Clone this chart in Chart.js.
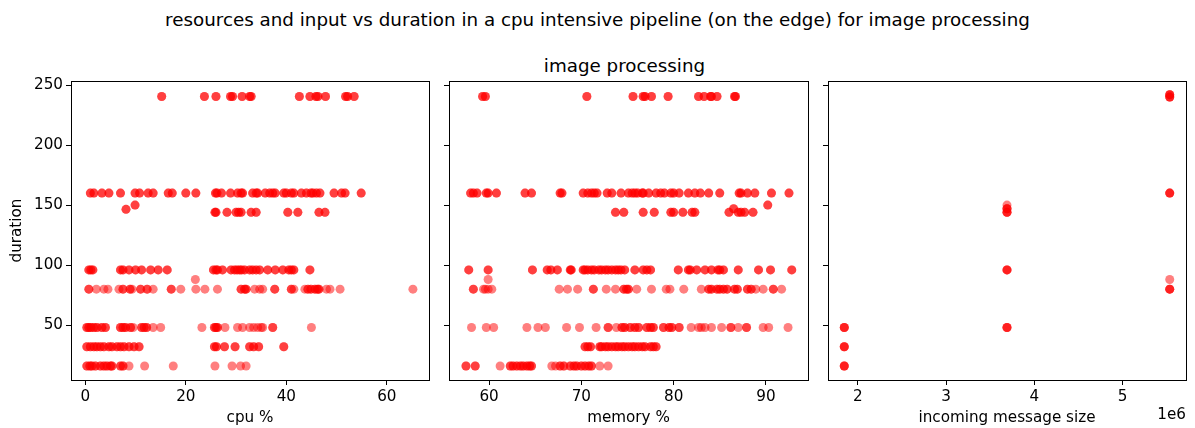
<!DOCTYPE html>
<html>
<head>
<meta charset="utf-8">
<script src="https://cdn.jsdelivr.net/npm/chart.js@4"></script>
<style>
	body { margin: 0; background: #fff; }
	#wrap { position: relative; width: 1195px; height: 428px; font-family: 'DejaVu Sans', sans-serif; color: #000; }
	canvas { position: absolute; top: 0; }
	.title { position: absolute; text-align: center; white-space: nowrap; font-size: 18.3px; line-height: 24px; }
</style>
</head>
<body>
<div id="wrap">
	<div class="title" style="left:0; width:1195px; top:8px;">resources and input vs duration in a cpu intensive pipeline (on the edge) for image processing</div>
	<div class="title" style="left:445px; width:359px; top:54px;">image processing</div>
	<canvas id="cpu" width="435" height="428" style="left:0"></canvas>
	<canvas id="memory" width="380" height="428" style="left:435px"></canvas>
	<canvas id="size" width="380" height="428" style="left:815px"></canvas>
</div>
<script>
// duration levels, one per row of points (shared y axis)
const durationRows = [240.5, 160, 144, 96, 80, 48, 32, 16];
const durationTicks = [50, 100, 150, 200, 250];

// cpu % per duration row (repeated runs listed twice)
const cpuRows = [
	[15.2, 15.2, 23.7, 23.7, 26.0, 26.0, 28.9, 28.9, 29.3, 29.3, 31.2, 31.2, 32.7, 32.7, 33.0, 33.0, 42.6, 42.6, 44.7, 44.7, 45.9, 45.9, 46.3, 46.3, 47.8, 47.8, 51.8, 51.8, 52.2, 52.2, 53.5, 53.5],
	[1.0, 1.0, 1.7, 1.7, 3.3, 3.3, 4.7, 4.7, 7.0, 7.0, 9.9, 9.9, 10.8, 10.8, 12.5, 12.5, 13.5, 13.5, 16.5, 16.5, 17.3, 17.3, 20.0, 20.0, 22.0, 22.0, 25.9, 25.9, 26.2, 26.2, 27.1, 27.1, 28.9, 28.9, 30.3, 30.3, 31.0, 31.0, 31.3, 31.3, 33.3, 33.3, 34.0, 34.0, 34.3, 34.3, 35.8, 35.8, 36.7, 36.7, 37.3, 37.3, 37.8, 37.8, 39.5, 39.5, 40.0, 40.0, 41.0, 41.0, 41.5, 41.5, 43.0, 43.0, 44.0, 44.0, 44.9, 44.9, 45.3, 45.3, 46.0, 46.0, 46.7, 46.7, 49.5, 49.5, 51.0, 51.0, 51.7, 51.7, 54.9, 54.9],
	[25.8, 25.8, 26.0, 26.0, 28.2, 28.2, 30.0, 30.0, 30.5, 30.5, 31.0, 31.0, 33.0, 33.0, 34.0, 34.0, 40.3, 40.3, 42.3, 42.3, 46.5, 46.5, 47.7, 47.7],
	[0.7, 0.7, 1.1, 1.1, 1.5, 1.5, 7.0, 7.0, 7.5, 7.5, 8.7, 8.7, 10.0, 10.0, 11.2, 11.2, 13.0, 13.0, 14.5, 14.5, 16.3, 16.3, 25.5, 25.5, 26.0, 26.0, 26.3, 26.3, 27.3, 27.3, 29.0, 29.0, 29.7, 29.7, 30.2, 30.2, 30.7, 30.7, 31.1, 31.1, 31.7, 31.7, 32.7, 32.7, 33.3, 33.3, 34.0, 34.0, 34.7, 34.7, 36.3, 36.3, 37.8, 37.8, 39.3, 39.3, 40.5, 40.5, 41.0, 41.0, 41.5, 41.5, 44.7, 44.7],
	[0.7, 0.7, 7.5, 7.5, 8.9, 8.9, 11.0, 11.0, 12.3, 12.3, 17.1, 17.1, 31.0, 31.0, 31.7, 31.7, 32.0, 32.0, 37.7, 37.7, 41.0, 41.0, 44.3, 44.3, 44.9, 44.9, 45.7, 45.7, 46.2, 46.2, 46.5, 46.5,
		2.2, 3.7, 4.5, 6.7, 9.3, 13.5, 19.0, 22.0, 23.8, 26.3, 33.7, 34.7, 35.3, 41.5, 43.7, 48.0, 48.7, 50.7, 65.2],
	[0.3, 0.3, 0.7, 0.7, 1.1, 1.1, 1.7, 1.7, 2.3, 2.3, 3.3, 3.3, 4.0, 4.0, 7.0, 7.0, 7.5, 7.5, 8.0, 8.0, 9.0, 9.0, 11.2, 11.2, 11.7, 11.7, 12.2, 12.2, 25.7, 25.7, 26.0, 26.0, 26.3, 26.3, 37.3, 37.3,
		9.5, 13.5, 15.0, 23.2, 27.8, 30.3, 31.3, 32.7, 33.5, 34.3, 35.0, 35.3, 45.0],
	[0.3, 0.3, 1.0, 1.0, 1.7, 1.7, 2.3, 2.3, 3.0, 3.0, 3.7, 3.7, 4.7, 4.7, 5.3, 5.3, 6.3, 6.3, 7.0, 7.0, 7.7, 7.7, 8.7, 8.7, 9.7, 9.7, 10.7, 10.7, 25.7, 25.7, 26.1, 26.1, 27.7, 27.7, 29.8, 29.8, 32.7, 32.7, 33.5, 33.5, 34.5, 34.5, 39.5, 39.5],
	[0.3, 0.3, 0.9, 0.9, 1.3, 1.3, 2.0, 2.0, 3.0, 3.0, 3.7, 3.7, 4.3, 4.3, 5.0, 5.0, 5.3, 5.3, 7.0, 7.0, 7.5, 7.5,
		8.7, 11.8, 17.5, 25.8, 29.2, 30.9, 32.0]
];
const cpuExtraX = [8.1, 8.1, 9.9, 9.9, 21.9];
const cpuExtraY = [146.5, 146.5, 150, 150, 88];
const cpuTicks = [0, 20, 40, 60];

// memory % per duration row
const memoryRows = [
	[59.3, 59.3, 59.6, 59.6, 70.6, 70.6, 75.6, 75.6, 76.7, 76.7, 76.9, 76.9, 77.6, 77.6, 79.4, 79.4, 82.7, 82.7, 83.3, 83.3, 84.0, 84.0, 84.1, 84.1, 84.7, 84.7, 86.6, 86.6, 86.7, 86.7],
	[58.0, 58.0, 58.3, 58.3, 58.7, 58.7, 59.7, 59.7, 59.9, 59.9, 60.8, 60.8, 63.9, 63.9, 64.6, 64.6, 67.7, 67.7, 67.9, 67.9, 70.2, 70.2, 70.7, 70.7, 71.1, 71.1, 71.4, 71.4, 71.7, 71.7, 72.8, 72.8, 73.3, 73.3, 74.3, 74.3, 75.1, 75.1, 75.5, 75.5, 75.8, 75.8, 76.1, 76.1, 76.6, 76.6, 76.7, 76.7, 77.3, 77.3, 78.1, 78.1, 78.6, 78.6, 79.0, 79.0, 79.7, 79.7, 80.0, 80.0, 80.6, 80.6, 81.6, 81.6, 82.3, 82.3, 82.9, 82.9, 83.8, 83.8, 85.0, 85.0, 87.1, 87.1, 87.3, 87.3, 88.0, 88.0, 88.8, 88.8, 90.6, 90.6, 92.5, 92.5],
	[73.7, 73.7, 74.6, 74.6, 76.7, 76.7, 77.9, 77.9, 79.7, 79.7, 80.0, 80.0, 81.0, 81.0, 82.0, 82.0, 82.3, 82.3, 86.0, 86.0, 87.0, 87.0, 87.3, 87.3, 87.7, 87.7, 88.6, 88.6],
	[57.8, 57.8, 59.9, 59.9, 64.7, 64.7, 66.3, 66.3, 66.7, 66.7, 67.4, 67.4, 68.8, 68.8, 68.9, 68.9, 70.2, 70.2, 70.4, 70.4, 70.7, 70.7, 71.1, 71.1, 71.4, 71.4, 71.9, 71.9, 72.2, 72.2, 72.6, 72.6, 72.9, 72.9, 73.3, 73.3, 73.7, 73.7, 74.0, 74.0, 74.3, 74.3, 74.7, 74.7, 75.8, 75.8, 76.7, 76.7, 77.1, 77.1, 77.5, 77.5, 80.5, 80.5, 81.6, 81.6, 81.8, 81.8, 82.5, 82.5, 83.4, 83.4, 84.1, 84.1, 84.8, 84.8, 85.0, 85.0, 85.4, 85.4, 87.0, 87.0, 89.2, 89.2, 90.5, 90.5, 92.8, 92.8],
	[58.3, 58.3, 71.3, 71.3, 74.6, 74.6, 74.9, 74.9, 75.1, 75.1, 83.8, 83.8, 84.1, 84.1, 84.7, 84.7, 85.0, 85.0, 85.4, 85.4, 85.8, 85.8, 86.6, 86.6, 86.9, 86.9, 88.0, 88.0, 88.4, 88.4, 90.8, 90.8,
		59.4, 59.6, 59.9, 60.3, 67.6, 68.5, 69.6, 72.7, 73.7, 76.0, 77.6, 79.2, 79.6, 81.1, 83.0, 88.9, 89.7, 91.7],
	[72.9, 72.9, 74.4, 74.4, 74.7, 74.7, 75.3, 75.3, 75.8, 75.8, 76.2, 76.2, 77.1, 77.1, 77.5, 77.5, 77.8, 77.8, 78.9, 78.9, 79.5, 79.5, 79.8, 79.8, 80.6, 80.6, 86.2, 86.2, 87.9, 87.9,
		58.1, 59.7, 60.5, 64.1, 65.3, 66.1, 68.4, 69.8, 71.6, 73.8, 81.9, 82.7, 83.0, 83.4, 84.1, 85.2, 87.0, 89.7, 90.3, 92.4],
	[70.4, 70.4, 70.7, 70.7, 71.0, 71.0, 72.0, 72.0, 72.2, 72.2, 72.6, 72.6, 72.9, 72.9, 73.3, 73.3, 73.7, 73.7, 74.0, 74.0, 74.4, 74.4, 74.7, 74.7, 75.1, 75.1, 75.5, 75.5, 75.8, 75.8, 76.2, 76.2, 76.6, 76.6, 76.9, 76.9, 77.5, 77.5, 77.8, 77.8, 78.1, 78.1],
	[57.5, 57.5, 58.5, 58.5, 62.3, 62.3, 62.6, 62.6, 63.0, 63.0, 63.4, 63.4, 63.7, 63.7, 64.1, 64.1, 64.4, 64.4, 64.6, 64.6, 67.7, 67.7, 68.1, 68.1, 68.8, 68.8, 69.2, 69.2, 69.5, 69.5, 70.0, 70.0, 70.4, 70.4, 70.8, 70.8, 71.1, 71.1,
		61.2, 66.8, 67.2, 72.0, 72.9]
];
const memoryExtraX = [86.5, 86.5, 90.2, 90.2, 59.9];
const memoryExtraY = [147, 147, 150, 150, 88];
const memoryTicks = [60, 70, 80, 90];

// incoming message size vs duration
const sizeX = [1845000, 1845000, 1845000, 1845000, 1845000, 1845000, 1845000, 1845000, 1845000,
	3690000, 3690000, 3690000, 3690000, 3690000, 3690000, 3690000, 3690000, 3690000, 3690000, 3690000, 3690000, 3690000,
	5535000, 5535000, 5535000, 5535000, 5535000, 5535000, 5535000, 5535000, 5535000, 5535000, 5535000, 5535000, 5535000];
const sizeY = [16, 16, 16, 32, 32, 32, 48, 48, 48,
	48, 48, 48, 96, 96, 96, 144, 144, 144, 147, 147, 147, 150,
	80, 80, 80, 88, 160, 160, 160, 240, 240, 240, 242, 242, 242];
const sizeTicks = [2000000, 3000000, 4000000, 5000000];

Chart.defaults.font.family = 'DejaVu Sans';
Chart.defaults.font.size = 15.2;
Chart.defaults.color = '#000';

function rowsToPoints(rows, extraX, extraY) {
	let pts = [];
	rows.forEach((xs, i) => {
		xs.forEach(x => pts.push({x: x, y: durationRows[i]}));
	});
	extraX.forEach((x, i) => pts.push({x: x, y: extraY[i]}));
	return pts;
}

const framePlugin = {
	id: 'frame',
	afterDraw(chart, args, opts) {
		const a = chart.chartArea;
		const ctx = chart.ctx;
		ctx.save();
		ctx.strokeStyle = '#000';
		ctx.lineWidth = 1;
		ctx.strokeRect(Math.round(a.left) + 0.5, Math.round(a.top) + 0.5, Math.round(a.right - a.left), Math.round(a.bottom - a.top));
		if (opts.note) {
			ctx.fillStyle = '#000';
			ctx.font = '15.2px "DejaVu Sans"';
			ctx.textAlign = 'right';
			ctx.textBaseline = 'middle';
			ctx.fillText(opts.note, a.right, 415);
		}
		ctx.restore();
	}
};

function plotPanel(canvas_id, points, p) {
	const config = {
		type: 'scatter',
		data: {
			datasets: [{
				data: points,
				backgroundColor: 'rgba(255,0,0,0.5)',
				borderWidth: 0,
				pointRadius: 4.5,
				pointHoverRadius: 4.5
			}]
		},
		options: {
			responsive: false,
			animation: false,
			layout: { padding: { left: 0, right: p.padRight, top: 81, bottom: 0 } },
			plugins: {
				legend: { display: false },
				tooltip: { enabled: false },
				frame: { note: p.note }
			},
			scales: {
				x: {
					type: 'linear',
					min: p.xMin,
					max: p.xMax,
					afterBuildTicks: s => { s.ticks = p.xTicks.map(v => ({value: v})); },
					afterFit: s => { s.height = 48; },
					grid: { drawOnChartArea: false, tickLength: 5, tickColor: '#000', tickWidth: 1 },
					border: { display: false },
					ticks: { padding: 3, maxRotation: 0, callback: p.xFormat },
					title: { display: true, text: p.xTitle, padding: { top: 2, bottom: 1 } }
				},
				y: {
					type: 'linear',
					min: 4.3,
					max: 253.4,
					afterBuildTicks: s => { s.ticks = durationTicks.map(v => ({value: v})); },
					afterFit: s => { s.width = p.yWidth; },
					grid: { drawOnChartArea: false, tickLength: 5, tickColor: '#000', tickWidth: 1 },
					border: { display: false },
					ticks: { display: p.yLabels, padding: 3 },
					title: { display: p.yLabels, text: 'duration', padding: { top: 8, bottom: 0 } }
				}
			}
		},
		plugins: [framePlugin]
	};
	return new Chart(document.getElementById(canvas_id), config);
}

plotPanel('cpu', rowsToPoints(cpuRows, cpuExtraX, cpuExtraY), {
	xMin: -2.85, xMax: 68.4, xTicks: cpuTicks, xTitle: 'cpu %',
	yWidth: 71, padRight: 6, yLabels: true
});

plotPanel('memory', rowsToPoints(memoryRows, memoryExtraX, memoryExtraY), {
	xMin: 55.66, xMax: 94.56, xTicks: memoryTicks, xTitle: 'memory %',
	yWidth: 14, padRight: 7, yLabels: false
});

plotPanel('size', sizeX.map((x, i) => ({x: x, y: sizeY[i]})), {
	xMin: 1660500, xMax: 5719500, xTicks: sizeTicks, xTitle: 'incoming message size',
	xFormat: v => String(v / 1000000),
	yWidth: 13, padRight: 9, yLabels: false, note: '1e6'
});
</script>
</body>
</html>
